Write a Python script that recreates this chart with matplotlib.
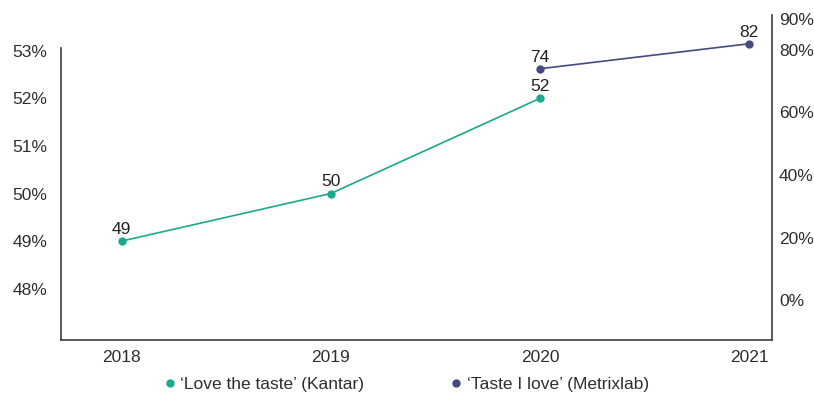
import matplotlib.pyplot as plt
from matplotlib.lines import Line2D

plt.rcParams['font.family'] = ['Liberation Sans', 'DejaVu Sans']

years = [2018, 2019, 2020, 2021]
kantar_years = [2018, 2019, 2020]
kantar_values = [49, 50, 52]
metrix_years = [2020, 2021]
metrix_values = [74, 82]

left_ticks = [48, 49, 50, 51, 52, 53]
right_ticks = [0, 20, 40, 60, 80, 90]

teal = '#1ba98b'
navy = '#464a82'
text_col = '#2e2e2e'
fs = 12.5

W, H = 814, 396
fig = plt.figure(figsize=(W / 100, H / 100), dpi=100)

def px_axes(x0, y0, x1, y1):
    # pixel box (top-left origin) -> figure axes
    return fig.add_axes([x0 / W, 1 - y1 / H, (x1 - x0) / W, (y1 - y0) / H])

ax1 = px_axes(61, 48, 772, 340)
ax2 = px_axes(61, 15, 772, 340)
ax2.patch.set_visible(False)

xlim = (2017.71, 2021.11)
for ax in (ax1, ax2):
    ax.set_xlim(*xlim)

# left axis
ax1.set_ylim(46.92, 53.06)
ax1.set_yticks(left_ticks)
ax1.set_yticklabels([f'{t}%' for t in left_ticks])
ax1.set_xticks(years)
ax1.set_xticklabels([str(y) for y in years])
for s in ['top', 'right']:
    ax1.spines[s].set_visible(False)
for s in ['left', 'bottom']:
    ax1.spines[s].set_color('#404040')
    ax1.spines[s].set_linewidth(1.2)
ax1.tick_params(axis='both', length=0, labelsize=fs, colors=text_col)
ax1.tick_params(axis='y', pad=10)
ax1.tick_params(axis='x', pad=7)

# right axis
ax2.set_ylim(-12.8, 91.2)
ax2.set_yticks(right_ticks)
ax2.set_yticklabels([f'{t}%' for t in right_ticks])
ax2.yaxis.tick_right()
ax2.set_xticks([])
for s in ['top', 'left', 'bottom']:
    ax2.spines[s].set_visible(False)
ax2.spines['right'].set_color('#404040')
ax2.spines['right'].set_linewidth(1.2)
ax2.tick_params(axis='y', length=0, labelsize=fs, colors=text_col, pad=5)

ax1.plot(kantar_years, kantar_values, color=teal, lw=1.2, marker='o', ms=5)
for x, v in zip(kantar_years, kantar_values):
    ax1.annotate(str(v), (x, v), xytext=(0, 3), textcoords='offset points',
                 ha='center', va='bottom', fontsize=fs, color='#222222')

ax2.plot(metrix_years, metrix_values, color=navy, lw=1.2, marker='o', ms=5)
for x, v in zip(metrix_years, metrix_values):
    ax2.annotate(str(v), (x, v), xytext=(0, 3), textcoords='offset points',
                 ha='center', va='bottom', fontsize=fs, color='#222222')

handles = [
    Line2D([], [], color=teal, marker='o', ls='none', ms=5),
    Line2D([], [], color=navy, marker='o', ls='none', ms=5),
]
fig.legend(handles, ["\u2018Love the taste\u2019 (Kantar)", "\u2018Taste I love\u2019 (Metrixlab)"],
           loc='center', bbox_to_anchor=(405 / W, 1 - 384 / H), ncol=2, frameon=False,
           fontsize=fs, handletextpad=0.1, columnspacing=4.8, handlelength=1.0,
           labelcolor=text_col)

fig.savefig('out.png', dpi=100)
